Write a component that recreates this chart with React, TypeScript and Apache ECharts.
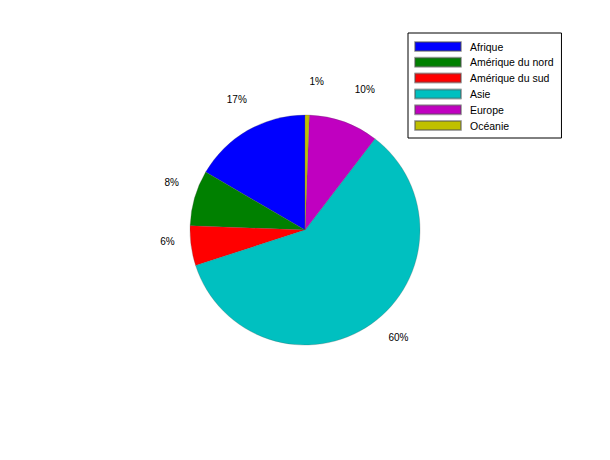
import React, { useEffect, useRef } from "react";
import * as echarts from "echarts";

const categories = ["Afrique", "Amérique du nord", "Amérique du sud", "Asie", "Europe", "Océanie"];
const shares = [16.6, 7.8, 5.6, 59.6, 9.8, 0.6];
const colors = ["#0000ff", "#008000", "#ff0000", "#00c0c0", "#c000c0", "#c0c000"];

export default function App() {
  const ref = useRef<HTMLDivElement>(null);
  useEffect(() => {
    const chart = echarts.init(ref.current!, null, { renderer: "svg" });
    const data = categories.map((name, i) => ({ name, value: shares[i], itemStyle: { color: colors[i] } }));
    const labelCx = 311;
    chart.setOption({
      animation: false,
      backgroundColor: "#ffffff",
      legend: {
        orient: "vertical",
        left: 408,
        top: 33,
        data: categories,
        icon: "rect",
        itemWidth: 46,
        itemHeight: 9,
        itemGap: 4.8,
        padding: [8, 8, 7, 6],
        borderColor: "#000000",
        borderWidth: 1,
        selectedMode: false,
        textStyle: {
          fontSize: 10.5,
          lineHeight: 10,
          fontFamily: "Liberation Sans",
          color: "#000",
          padding: [0, 0, 0, 4],
        },
      },
      series: [
        {
          type: "pie",
          center: [305, 230],
          radius: [0, 115],
          startAngle: 90,
          clockwise: false,
          silent: true,
          label: { show: false },
          labelLine: { show: false },
          itemStyle: { borderColor: "rgba(80,80,80,0.5)", borderWidth: 0.5 },
          data,
        },
        {
          type: "pie",
          center: [labelCx, 222],
          radius: [118, 158],
          startAngle: 90,
          clockwise: false,
          silent: true,
          legendHoverLink: false,
          itemStyle: { color: "rgba(0,0,0,0)" },
          label: {
            show: true,
            position: "inside",
            formatter: (p: any) => Math.round(p.value) + "%",
            fontSize: 10,
            fontFamily: "Liberation Sans",
            color: "#000",
          },
          labelLayout: (params: any) => {
            const r = params.labelRect;
            const mid = r.x + r.width / 2;
            if (Math.abs(mid - labelCx) < 15) return { dx: 3 };
            return { dx: mid > labelCx ? 6 : -4 };
          },
          labelLine: { show: false },
          data: categories.map((name, i) => ({ name, value: shares[i] })),
        },
      ],
    });
    return () => chart.dispose();
  }, []);
  return <div ref={ref} style={{ width: 610, height: 460, position: "absolute", left: 0, top: 0 }} />;
}
